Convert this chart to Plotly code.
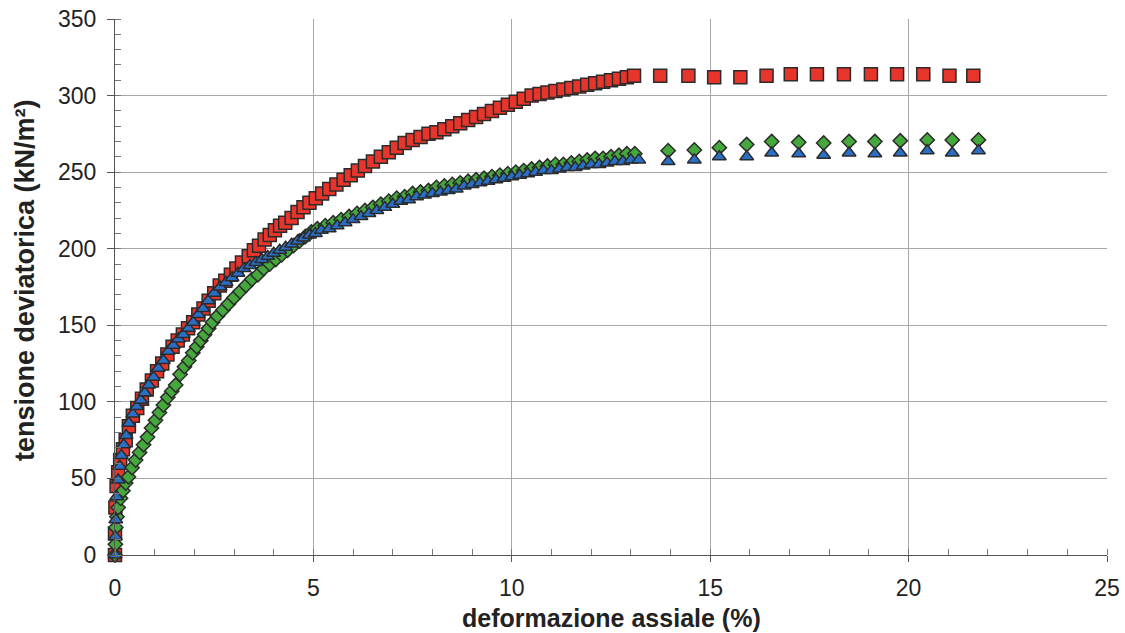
import plotly.graph_objects as go

# ---- data ----
red_strain = [0, 0.0, 0.01, 0.04, 0.08, 0.13, 0.2, 0.27, 0.35, 0.45, 0.56, 0.68, 0.8, 0.93, 1.06, 1.19,
              1.32, 1.45, 1.58, 1.71, 1.84, 1.97, 2.1, 2.23, 2.36, 2.5, 2.64, 2.78, 2.92, 3.06, 3.2, 3.37,
              3.5, 3.63, 3.77, 3.9, 4.03, 4.16, 4.29, 4.45, 4.6, 4.75, 4.9, 5.06, 5.22, 5.4, 5.58, 5.76,
              5.94, 6.12, 6.3, 6.5, 6.7, 6.9, 7.1, 7.3, 7.5, 7.7, 7.9, 8.1, 8.3, 8.5, 8.7, 8.9, 9.1, 9.3,
              9.5, 9.7, 9.9, 10.1, 10.3, 10.5, 10.7, 10.9, 11.1, 11.3, 11.5, 11.7, 11.9, 12.1, 12.3, 12.5,
              12.7, 12.9, 13.08, 13.74, 14.45, 15.1, 15.76, 16.42, 17.03, 17.69, 18.37, 19.05, 19.71,
              20.37, 21.03, 21.63]
red_stress = [0, 14, 31, 45, 54, 62, 69, 75, 84, 91, 96, 102, 108, 114, 120, 125,
              131, 136, 140, 144, 148, 152, 157, 161, 166, 171, 176, 179, 183, 187, 191, 195,
              199, 202, 206, 209, 212, 215, 217, 220, 224, 227, 230, 233, 236, 239, 242, 245,
              248, 251, 254, 257, 260, 263, 266, 269, 271, 273, 275, 276, 278, 280, 282, 284, 286, 288,
              290, 292, 294, 296, 298, 300, 301, 302, 303, 304, 305, 306, 307, 308, 309, 310,
              311, 312, 313, 313, 313, 312, 312, 313, 314, 314, 314, 314, 314,
              314, 313, 313]

green_strain = [0, 0.01, 0.02, 0.05, 0.08, 0.14, 0.2, 0.27, 0.34, 0.43, 0.52, 0.62, 0.72, 0.82, 0.92,
                1.02, 1.12, 1.22, 1.33, 1.43, 1.53, 1.64, 1.75, 1.86, 1.96, 2.06, 2.16, 2.26, 2.36, 2.46,
                2.58, 2.72, 2.86, 3.0, 3.15, 3.3, 3.45, 3.6, 3.75, 3.9, 4.05, 4.2, 4.35, 4.5, 4.65, 4.8,
                4.95, 5.1, 5.3, 5.5, 5.7, 5.9, 6.1, 6.3, 6.5, 6.7, 6.9, 7.1, 7.3, 7.5, 7.7, 7.9, 8.1,
                8.3, 8.5, 8.7, 8.9, 9.1, 9.3, 9.5, 9.7, 9.9, 10.1, 10.3, 10.5, 10.7, 10.9, 11.1, 11.3,
                11.5, 11.7, 11.9, 12.1, 12.3, 12.5, 12.7, 12.9, 13.1, 13.94, 14.6, 15.23, 15.92, 16.55,
                17.23, 17.86, 18.5, 19.15, 19.79, 20.47, 21.1, 21.76]
green_stress = [0, 7, 18, 25, 31, 37, 42, 47, 51, 57, 62, 67, 72, 77, 83,
                88, 93, 98, 103, 107, 111, 118, 123, 127, 132, 136, 140, 144, 148, 152,
                156, 160, 164, 168, 172, 176, 180, 183, 187, 190, 193, 196, 199, 202, 205, 208,
                211, 213, 215, 217, 219, 221, 223, 225, 227, 229, 231, 233, 234, 236, 237, 238, 240,
                241, 242, 243, 244, 245, 246, 247, 248, 249, 250, 251, 252, 253, 254, 255, 255,
                256, 257, 258, 259, 259, 260, 261, 262, 262, 264, 264.5, 266, 268, 270,
                269.5, 269, 270, 270, 270.5, 271, 271, 271]

blue_strain = [0, 0.01, 0.02, 0.04, 0.08, 0.12, 0.16, 0.22, 0.28, 0.35, 0.45, 0.55, 0.65, 0.75, 0.85,
               0.97, 1.09, 1.22, 1.34, 1.47, 1.6, 1.72, 1.85, 1.97, 2.1, 2.22, 2.35, 2.5, 2.65, 2.8,
               2.95, 3.1, 3.25, 3.4, 3.55, 3.7, 3.85, 4.0, 4.15, 4.3, 4.45, 4.6, 4.75, 4.9, 5.05, 5.2,
               5.4, 5.6, 5.8, 6.0, 6.2, 6.4, 6.6, 6.8, 7.0, 7.2, 7.4, 7.6, 7.8, 8.0, 8.2, 8.4, 8.6,
               8.8, 9.0, 9.2, 9.4, 9.6, 9.8, 10.0, 10.2, 10.4, 10.6, 10.8, 11.0, 11.2, 11.4, 11.6,
               11.8, 12.0, 12.2, 12.4, 12.6, 12.8, 13.0, 13.2, 13.94, 14.6, 15.23, 15.92, 16.55,
               17.23, 17.86, 18.5, 19.15, 19.79, 20.47, 21.1, 21.76]
blue_stress = [0, 12, 23, 38, 49, 58, 65, 72, 78, 86, 92, 97, 101, 106, 111,
               116, 122, 127, 133, 137, 141, 144, 148, 152, 157, 161, 166, 171, 175, 178,
               181, 184, 187, 189, 191, 193, 195, 197, 199, 201, 203, 205, 207, 209, 210, 212,
               213, 215, 217, 219, 221, 223, 225, 227, 229, 231, 232, 234, 235, 236, 237, 238, 239,
               241, 242, 243, 244, 245, 246, 247, 248, 249, 250, 251, 251, 252, 253, 253,
               254, 255, 255, 256, 257, 257, 258, 258, 257, 258, 260, 260, 262.5,
               262, 261, 262.5, 262, 262.5, 264, 262.5, 264]

x_ticks = [0, 5, 10, 15, 20, 25]
y_ticks = [0, 50, 100, 150, 200, 250, 300, 350]
x_title = "deformazione assiale (%)"
y_title = "tensione deviatorica (kN/m²)"

assert len(red_strain) == len(red_stress)
assert len(green_strain) == len(green_stress)
assert len(blue_strain) == len(blue_stress)

FONT = "Liberation Sans, Arial, Helvetica, sans-serif"
OUTLINE = dict(color="#2b2b2b", width=1.5)

fig = go.Figure()
fig.add_trace(go.Scatter(x=red_strain, y=red_stress, mode="markers", cliponaxis=False,
                         marker=dict(symbol="square", size=13, color="#e8352b", line=OUTLINE)))
fig.add_trace(go.Scatter(x=green_strain, y=green_stress, mode="markers", cliponaxis=False,
                         marker=dict(symbol="diamond", size=11, color="#45a83c", line=OUTLINE)))
fig.add_trace(go.Scatter(x=blue_strain, y=blue_stress, mode="markers", cliponaxis=False,
                         marker=dict(symbol="triangle-up", size=12, color="#2a6fc6", line=OUTLINE)))

fig.update_layout(
    width=1125, height=633,
    margin=dict(l=115, r=18, t=19, b=78),
    paper_bgcolor="white", plot_bgcolor="white",
    showlegend=False,
    font=dict(family=FONT, color="#222222", size=23),
)
fig.update_xaxes(
    range=[0, 25], tickvals=x_ticks, ticktext=[str(v) for v in x_ticks],
    automargin=False, ticklabeloverflow="allow",
    showgrid=True, gridcolor="#a8a8a8", gridwidth=1,
    showline=True, linecolor="#555555", linewidth=1.2,
    ticks="outside", ticklen=6, tickcolor="#555555",
    ticklabelstandoff=6,
    minor=dict(dtick=1, ticks="inside", ticklen=6, tickcolor="#777777", showgrid=False),
    zeroline=False,
    tickfont=dict(family=FONT, size=23, color="#222222"),
)
fig.update_yaxes(
    range=[0, 350], tickvals=y_ticks, ticktext=[str(v) for v in y_ticks],
    automargin=False, ticklabeloverflow="allow",
    showgrid=True, gridcolor="#a8a8a8", gridwidth=1,
    showline=True, linecolor="#555555", linewidth=1.2,
    ticks="outside", ticklen=7, tickcolor="#555555",
    ticklabelstandoff=6,
    minor=dict(dtick=10, ticks="inside", ticklen=6, tickcolor="#777777", showgrid=False),
    zeroline=False,
    tickfont=dict(family=FONT, size=23, color="#222222"),
)

# axis titles placed like the reference
fig.add_annotation(text=f"<b>{x_title}</b>", xref="paper", yref="paper", x=0.5, y=0,
                   xanchor="center", yanchor="middle", yshift=-63, showarrow=False,
                   font=dict(family=FONT, size=25, color="#222222"))
fig.add_annotation(text=f"<b>{y_title}</b>", xref="paper", yref="paper", x=0, y=0.5,
                   xanchor="center", yanchor="middle", xshift=-90, yshift=7, textangle=-90,
                   showarrow=False, font=dict(family=FONT, size=27, color="#222222"))

# the default page has an 8px body margin; remove it so the 1125x633 figure fills the window
fig.write_html("out.html", config={"displayModeBar": False},
               post_script="document.body.style.margin='0px';")
